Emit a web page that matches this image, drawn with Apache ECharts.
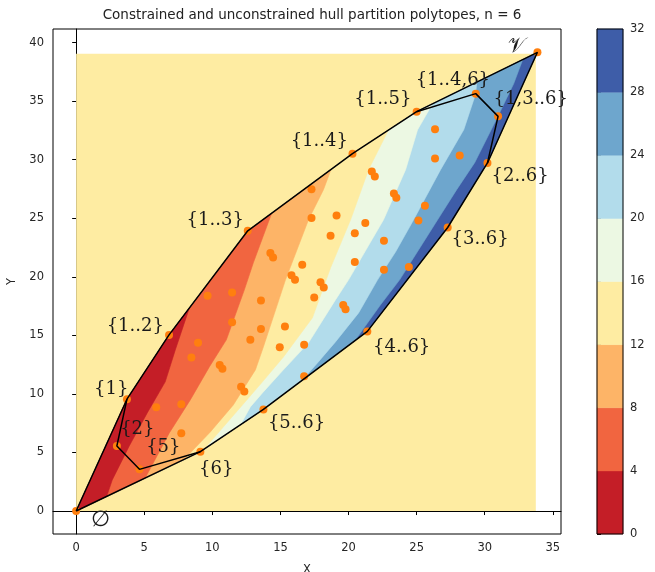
<!DOCTYPE html>
<html>
<head>
<meta charset="utf-8">
<title>Constrained and unconstrained hull partition polytopes</title>
<script src="https://cdn.jsdelivr.net/npm/echarts@6/dist/echarts.min.js"></script>
<style>
  html, body { margin: 0; padding: 0; background: #fff; }
  #chart { width: 655px; height: 572px; }
</style>
</head>
<body>
<div id="chart"></div>
<script>
// axis ticks
var xTicks = [0, 5, 10, 15, 20, 25, 30, 35];
var yTicks = [0, 5, 10, 15, 20, 25, 30, 35, 40];
var levels = [0, 4, 8, 12, 16, 20, 24, 28, 32];
var levelColors = ['#c41e27', '#f16540', '#fdb467', '#feeca2', '#ecf8e3', '#b2dceb', '#6ea6cd', '#3e5da8'];

// extent of the contour grid (x0, y0, x1, y1), field is 12..16 outside the hull
var gridExtent = [[0, 0, 33.75, 39.05]];

// unconstrained hull, counter clockwise from the empty set
var outerHull = [[0, 0], [9.12, 5.07], [13.75, 8.68], [21.38, 15.34], [27.28, 24.21], [30.2, 29.72],
  [33.87, 39.17], [25.0, 34.1], [20.29, 30.51], [12.6, 23.93], [6.82, 15.04], [3.73, 9.55], [0, 0]];
// constrained parts
var innerLow = [[3.73, 9.55], [2.99, 5.56], [4.65, 3.56], [9.12, 5.07]];
var innerHigh = [[25.0, 34.1], [29.34, 35.64], [30.98, 33.7], [30.2, 29.72]];

// contour lines, top end first
var iso4 = [[8.24, 17.09], [7.28, 13.76], [6.54, 11.03], [5.22, 8.38], [3.9, 5.56], [2.65, 2.65], [2.35, 1.62]];
var iso8 = [[14.26, 25.13], [13.01, 21.2], [12.35, 18.89], [11.03, 14.62], [9.78, 12.31], [8.38, 9.49], [6.84, 6.67], [5.07, 2.82]];
var iso12 = [[18.68, 29.06], [18.16, 27.44], [17.06, 24.87], [15.37, 19.74], [13.75, 14.02], [13.16, 12.05], [11.54, 9.06], [9.85, 6.75], [8.16, 4.7]];
var iso16 = [[22.94, 32.56], [21.47, 29.15], [20.15, 24.87], [18.68, 20.77], [17.35, 16.5], [15.22, 13.16], [13.68, 11.03], [12.21, 9.06], [10.74, 7.09], [9.34, 5.21]];
var iso20 = [[26.18, 34.79], [25.07, 32.56], [24.19, 29.15], [22.57, 24.87], [20.0, 19.74], [19.04, 18.03], [17.06, 14.36], [15.15, 11.97], [13.68, 10.09], [12.79, 8.89], [12.06, 7.35]];
var iso24 = [[29.41, 36.58], [29.34, 35.64], [28.46, 32.56], [26.76, 29.15], [24.78, 24.87], [23.46, 22.14], [22.13, 19.74], [20.74, 16.92], [19.04, 14.44], [17.72, 12.65], [16.55, 11.1]];
var iso28 = [[32.79, 38.55], [32.13, 36.5], [30.96, 33.68], [29.26, 29.74], [27.94, 27.44], [26.54, 24.87], [25.15, 22.31], [23.75, 19.74], [22.35, 17.61], [20.51, 14.62]];

// sample points
var points = [
  [0, 0], [3.73, 9.55], [2.99, 5.56], [4.65, 3.56], [9.12, 5.07], [6.82, 15.04], [12.6, 23.93], [20.29, 30.51],
  [25.0, 34.1], [29.34, 35.64], [30.98, 33.7], [33.87, 39.17], [30.2, 29.72], [27.28, 24.21], [21.38, 15.34], [13.75, 8.68],
  [5.88, 8.86], [7.72, 9.12], [7.72, 6.64], [8.95, 14.38], [8.46, 13.12], [11.45, 16.13], [12.79, 14.62], [10.54, 12.48],
  [10.74, 12.14], [12.11, 10.62], [12.35, 10.21], [9.65, 18.38], [11.45, 18.66], [13.57, 17.97], [13.57, 15.54], [15.33, 15.75],
  [14.95, 13.99], [16.74, 14.19], [16.74, 11.5], [14.26, 22.03], [14.46, 21.65], [16.6, 21.03], [15.81, 20.13], [16.07, 19.74],
  [17.28, 27.48], [17.28, 25.02], [19.12, 25.24], [18.68, 23.5], [20.46, 23.72], [20.46, 21.26], [17.94, 19.53], [18.18, 19.09],
  [17.48, 18.23], [19.61, 17.59], [19.78, 17.22], [21.23, 24.59], [22.6, 23.09], [22.6, 20.6], [24.43, 20.83], [21.71, 29.0],
  [21.93, 28.57], [23.33, 27.12], [23.51, 26.75], [25.61, 26.07], [25.13, 24.81], [26.35, 32.61], [26.35, 30.11], [28.16, 30.36]
];

// vertex annotations
var labelNames = ['\uD835\uDCB1', '{1..4,6}', '{1..5}', '{1,3..6}', '{2..6}', '{3..6}', '{4..6}', '{5..6}',
  '{6}', '{5}', '{2}', '{1}', '{1..2}', '{1..3}', '{1..4}', '\u2205'];
var labelXY = [[32.35, 39.66], [27.66, 36.75], [22.52, 35.13], [33.38, 35.13], [32.6, 28.55], [29.66, 23.16], [23.9, 14.02], [16.18, 7.52],
  [10.29, 3.59], [6.4, 5.47], [4.49, 7.0], [2.57, 10.43], [4.34, 15.81], [10.21, 24.79], [17.85, 31.54], [1.76, -0.77]];
var labelSize = [21, 18, 18, 18, 18, 18, 18, 18, 18, 18, 18, 18, 18, 18, 18, 22];

// --- band polygons: part of the hull on the low side of each contour line ---
function side(a, b, p) {
  return (b[0] - a[0]) * (p[1] - a[1]) - (b[1] - a[1]) * (p[0] - a[0]);
}
function clipToHull(poly) {
  var hull = outerHull.slice(0, -1);
  var out = poly;
  for (var i = 0; i < hull.length && out.length; i++) {
    var a = hull[i], b = hull[(i + 1) % hull.length];
    var inp = out;
    out = [];
    for (var j = 0; j < inp.length; j++) {
      var p = inp[j], q = inp[(j + 1) % inp.length];
      var sp = side(a, b, p), sq = side(a, b, q);
      if (sp >= 0) out.push(p);
      if ((sp >= 0) !== (sq >= 0)) {
        var t = sp / (sp - sq);
        out.push([p[0] + t * (q[0] - p[0]), p[1] + t * (q[1] - p[1])]);
      }
    }
  }
  return out;
}
function stretch(p, q) {
  var dx = p[0] - q[0], dy = p[1] - q[1], len = Math.sqrt(dx * dx + dy * dy);
  return [p[0] + 60 * dx / len, p[1] + 60 * dy / len];
}
function lowSide(iso) {
  var n = iso.length;
  var poly = [stretch(iso[0], iso[1])].concat(iso, [stretch(iso[n - 1], iso[n - 2]), [-200, 200]]);
  return clipToHull(poly);
}

var isoLines = [iso4, iso8, iso12, iso16, iso20, iso24, iso28];
var bandPolys = [outerHull.slice(0, -1)];
var bandFill = [levelColors[7]];
for (var k = isoLines.length - 1; k >= 0; k--) {
  bandPolys.push(lowSide(isoLines[k]));
  bandFill.push(levelColors[k]);
}

var colorbarData = [];
for (var i = 0; i < levels.length - 1; i++) colorbarData.push([levels[i], levels[i + 1]]);

var chart = echarts.init(document.getElementById('chart'));
var tickColor = '#262626';

var option = {
  animation: false,
  textStyle: { fontFamily: 'DejaVu Sans' },
  title: {
    text: 'Constrained and unconstrained hull partition polytopes, n = 6',
    left: 307,
    textAlign: 'center',
    top: 3,
    textStyle: { fontSize: 13.5, fontWeight: 'normal', color: '#222', fontFamily: 'DejaVu Sans' }
  },
  grid: [
    { left: 53, right: 94, top: 29, bottom: 38, show: true, borderColor: '#000', borderWidth: 1, outerBoundsMode: 'none', containLabel: false },
    { left: 597, width: 26, top: 29, bottom: 38, outerBoundsMode: 'none', containLabel: false }
  ],
  xAxis: [
    {
      gridIndex: 0, type: 'value', min: -1.7, max: 35.6,
      name: 'X', nameLocation: 'middle', nameGap: 30,
      nameTextStyle: { fontSize: 11.5, color: tickColor },
      axisLine: { show: true, lineStyle: { color: '#000' } },
      axisTick: { show: true, length: 4, customValues: xTicks, lineStyle: { color: '#000' } },
      axisLabel: { customValues: xTicks, fontSize: 11.5, color: tickColor, margin: 8 },
      splitLine: { show: false }
    },
    { gridIndex: 1, type: 'value', min: 0, max: 1, show: false }
  ],
  yAxis: [
    {
      gridIndex: 0, type: 'value', min: -1.96, max: 41.16,
      name: 'Y', nameLocation: 'middle', nameGap: 30, nameRotate: 90,
      nameTextStyle: { fontSize: 11.5, color: tickColor },
      axisLine: { show: true, lineStyle: { color: '#000' } },
      axisTick: { show: true, length: 4, customValues: yTicks, lineStyle: { color: '#000' } },
      axisLabel: { customValues: yTicks, fontSize: 11.5, color: tickColor, margin: 9 },
      splitLine: { show: false }
    },
    {
      gridIndex: 1, type: 'value', min: 0, max: 32, interval: 4, position: 'right',
      axisLine: { show: true, lineStyle: { color: '#000' } },
      axisTick: { show: true, length: 4, lineStyle: { color: '#000' } },
      axisLabel: { fontSize: 11.5, color: tickColor, margin: 7 },
      splitLine: { show: false }
    }
  ],
  series: [
    {
      // grid extent of the filled contours
      type: 'custom', xAxisIndex: 0, yAxisIndex: 0, z: 1,
      data: gridExtent,
      renderItem: function (params, api) {
        var p0 = api.coord([api.value(0), api.value(1)]);
        var p1 = api.coord([api.value(2), api.value(3)]);
        return {
          type: 'rect',
          shape: { x: p0[0], y: p1[1], width: p1[0] - p0[0], height: p0[1] - p1[1] },
          style: { fill: levelColors[3] }
        };
      }
    },
    {
      // filled bands inside the hull
      type: 'custom', xAxisIndex: 0, yAxisIndex: 0, z: 2,
      data: bandFill.map(function (c, i) { return [i]; }),
      renderItem: function (params, api) {
        var poly = bandPolys[params.dataIndex];
        if (!poly || poly.length < 3) return;
        var pts = poly.map(function (p) { return api.coord(p); });
        var c = bandFill[params.dataIndex];
        return {
          type: 'polygon',
          shape: { points: pts },
          style: { fill: c, stroke: c, lineWidth: 0.6 }
        };
      }
    },
    {
      type: 'scatter', xAxisIndex: 0, yAxisIndex: 0, z: 3,
      symbolSize: 8,
      itemStyle: { color: '#ff7f0e', opacity: 1 },
      data: points
    },
    {
      type: 'line', xAxisIndex: 0, yAxisIndex: 0, z: 4,
      symbol: 'none', lineStyle: { color: '#000', width: 1.5 },
      data: outerHull
    },
    {
      type: 'line', xAxisIndex: 0, yAxisIndex: 0, z: 4,
      symbol: 'none', lineStyle: { color: '#000', width: 1.5 },
      data: innerLow
    },
    {
      type: 'line', xAxisIndex: 0, yAxisIndex: 0, z: 4,
      symbol: 'none', lineStyle: { color: '#000', width: 1.5 },
      data: innerHigh
    },
    {
      // vertex labels
      type: 'custom', xAxisIndex: 0, yAxisIndex: 0, z: 5,
      data: labelXY,
      renderItem: function (params, api) {
        var p = api.coord([api.value(0), api.value(1)]);
        return {
          type: 'text',
          x: p[0], y: p[1],
          style: {
            text: labelNames[params.dataIndex],
            textAlign: 'center', textVerticalAlign: 'middle',
            fill: '#1a1a1a',
            font: labelSize[params.dataIndex] + 'px "DejaVu Serif", serif'
          }
        };
      }
    },
    {
      // colorbar
      type: 'custom', xAxisIndex: 1, yAxisIndex: 1, z: 2,
      data: colorbarData,
      renderItem: function (params, api) {
        var p0 = api.coord([0, api.value(0)]);
        var p1 = api.coord([1, api.value(1)]);
        var c = levelColors[params.dataIndex];
        return {
          type: 'rect',
          shape: { x: p0[0], y: p1[1], width: p1[0] - p0[0], height: p0[1] - p1[1] },
          style: { fill: c, stroke: c, lineWidth: 0.5 }
        };
      }
    },
    {
      type: 'custom', xAxisIndex: 1, yAxisIndex: 1, z: 3,
      data: [[0, 32]],
      renderItem: function (params, api) {
        var p0 = api.coord([0, 0]);
        var p1 = api.coord([1, 32]);
        return {
          type: 'rect',
          shape: { x: p0[0], y: p1[1], width: p1[0] - p0[0], height: p0[1] - p1[1] },
          style: { fill: 'none', stroke: '#000', lineWidth: 1 }
        };
      }
    }
  ]
};
chart.setOption(option);
</script>
</body>
</html>
